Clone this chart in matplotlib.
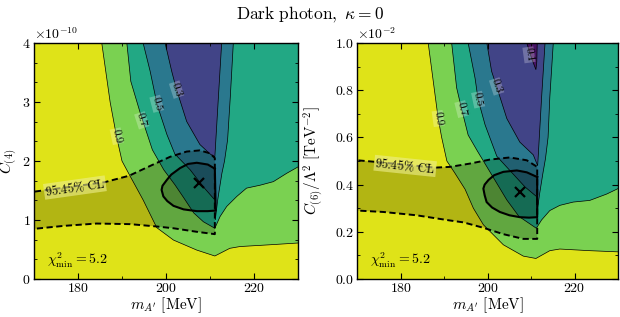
import matplotlib
matplotlib.use('Agg')

import matplotlib.pyplot as plt
import numpy as np
from matplotlib.ticker import MultipleLocator, AutoMinorLocator, ScalarFormatter

plt.rcParams['font.family'] = 'serif'
plt.rcParams['font.serif'] = ['cmr10']
plt.rcParams['mathtext.fontset'] = 'cm'
plt.rcParams['axes.formatter.use_mathtext'] = True

# contour levels of the p-value map
levels = [0.1, 0.3, 0.5, 0.7, 0.9]

# ---- left panel: C_(4) in units of 1e-10, boundaries of the region p < level
left_p09 = [(185.0, 4.2), (185.4, 4.0), (187.3, 3.0), (188.8, 2.4), (190.0, 2.0), (191.8, 1.75),
            (194.8, 1.34), (197.9, 0.87), (201.7, 0.66), (207.0, 0.49), (211.1, 0.39), (214.5, 0.52),
            (216.8, 0.55), (223.6, 0.58), (230.0, 0.61), (232.0, 0.62), (232.0, 4.2)]
left_p07 = [(190.9, 4.2), (191.1, 4.0), (192.0, 3.35), (194.2, 2.8), (196.9, 2.19), (199.5, 1.85),
            (202.0, 1.6), (204.0, 1.38), (206.3, 1.12), (208.5, 0.97), (211.1, 0.86), (212.3, 1.06),
            (213.8, 1.23), (216.1, 1.40), (218.3, 1.54), (221.4, 1.59), (224.4, 1.65), (227.4, 1.79),
            (230.0, 1.90), (232.0, 1.95), (232.0, 4.2)]
left_p05 = [(194.5, 4.2), (194.8, 4.0), (196.4, 3.52), (198.0, 2.95), (200.2, 2.45), (202.0, 2.12),
            (205.5, 1.85), (208.5, 1.56), (211.1, 1.34), (211.2, 1.0), (211.75, 1.34), (212.7, 1.79),
            (213.3, 2.0), (214.0, 2.36), (214.6, 3.07), (215.3, 4.0), (215.4, 4.2)]
left_p03 = [(199.7, 4.2), (199.8, 4.0), (201.3, 3.52), (202.4, 3.21), (204.7, 2.67), (207.7, 2.28),
            (210.0, 2.12), (211.1, 2.07), (211.9, 3.07), (212.65, 4.0), (212.7, 4.2)]
left_cl95 = [(168.0, 1.47), (170.0, 1.48), (178.0, 1.56), (186.0, 1.64), (191.6, 1.75), (196.5, 1.92),
             (200.9, 2.07), (204.7, 2.16), (207.7, 2.18), (210.0, 2.13), (211.1, 2.05), (211.1, 0.76),
             (207.0, 0.80), (201.7, 0.86), (197.9, 0.89), (191.8, 0.93), (184.2, 0.94), (176.7, 0.90),
             (170.0, 0.85), (168.0, 0.84)]
left_cl68 = [(211.1, 1.87), (209.5, 1.94), (207.0, 1.97), (205.0, 1.95), (203.2, 1.88), (201.2, 1.77),
             (200.2, 1.68), (199.2, 1.58), (199.0, 1.51), (199.4, 1.40), (200.3, 1.32), (201.7, 1.24),
             (204.0, 1.18), (207.0, 1.15), (209.5, 1.15), (211.3, 1.16), (211.1, 1.87)]
left_best = (207.4, 1.62)
left_label_pos = [(188.8, 2.42), (194.5, 2.69), (197.9, 2.97), (202.4, 3.21)]
left_label_txt = ['0.9', '0.7', '0.5', '0.3']
left_cl_label_pos = (179.3, 1.55)

# ---- right panel: C_(6)/Lambda^2 in units of 1e-2 TeV^-2
right_p09 = [(186.0, 1.05), (186.3, 1.0), (188.6, 0.68), (189.4, 0.60), (190.6, 0.50), (192.4, 0.45),
             (194.8, 0.38), (196.7, 0.30), (199.0, 0.23), (203.6, 0.145), (208.2, 0.097), (211.1, 0.087),
             (214.3, 0.12), (216.6, 0.127), (223.5, 0.12), (230.0, 0.115), (232.0, 0.115), (232.0, 1.05)]
right_p07 = [(191.6, 1.05), (191.7, 1.0), (192.85, 0.81), (194.0, 0.72), (195.5, 0.61), (197.7, 0.54),
             (201.3, 0.43), (204.4, 0.335), (207.2, 0.265), (211.2, 0.215), (212.4, 0.25), (214.3, 0.29),
             (216.6, 0.312), (219.7, 0.326), (223.5, 0.333), (227.4, 0.36), (230.0, 0.383), (232.0, 0.39),
             (232.0, 1.05)]
right_p05 = [(195.4, 1.05), (195.5, 1.0), (197.1, 0.85), (197.8, 0.76), (199.4, 0.653), (202.1, 0.52),
             (205.1, 0.46), (208.6, 0.39), (211.2, 0.35), (211.5, 0.30), (211.96, 0.362), (212.7, 0.447),
             (213.3, 0.51), (213.9, 0.6), (214.3, 0.77), (215.1, 1.0), (215.2, 1.05)]
right_p03 = [(199.7, 1.05), (199.8, 1.0), (200.9, 0.88), (202.05, 0.816), (204.4, 0.68), (207.4, 0.58),
             (210.5, 0.526), (211.5, 0.48), (211.6, 0.51), (212.4, 0.766), (213.2, 1.0), (213.3, 1.05)]
right_p01 = [(208.9, 1.05), (209.0, 1.0), (210.2, 0.93), (211.1, 0.887), (211.3, 0.92), (211.4, 1.0),
             (211.4, 1.05)]
right_cl95 = [(168.0, 0.505), (170.0, 0.503), (174.4, 0.496), (181.0, 0.484), (187.9, 0.472),
              (191.3, 0.475), (195.9, 0.489), (200.5, 0.506), (205.1, 0.515), (209.0, 0.503),
              (211.4, 0.475), (211.4, 0.17), (208.2, 0.17), (203.6, 0.19), (199.0, 0.217), (194.4, 0.24),
              (191.3, 0.248), (183.6, 0.27), (176.0, 0.284), (170.0, 0.29), (168.0, 0.291)]
right_cl68 = [(211.4, 0.432), (209.0, 0.452), (206.7, 0.46), (203.6, 0.454), (201.5, 0.44), (200.2, 0.42),
              (199.3, 0.40), (199.0, 0.383), (199.3, 0.355), (199.75, 0.326), (201.0, 0.303),
              (202.8, 0.284), (205.0, 0.27), (207.4, 0.262), (209.5, 0.26), (211.4, 0.262), (211.4, 0.432)]
right_best = (207.4, 0.37)
right_label_pos = [(188.6, 0.68), (194.0, 0.72), (197.8, 0.76), (202.05, 0.816), (209.5, 0.95)]
right_label_txt = ['0.9', '0.7', '0.5', '0.3', '0.1']
right_cl_label_pos = (181.0, 0.479)

chi2_min = 5.2

# band colours: viridis at the middle of each level interval
band_edges = [0.0] + levels + [1.0]
band_mid = [(a + b) / 2 for a, b in zip(band_edges[:-1], band_edges[1:])]
band_colors = plt.cm.viridis(np.array(band_mid))


def draw_panel(ax, regions, cl95, cl68, best, lab_pos, lab_txt, lab_rot, cl_pos, cl_rot,
               scale, ylim, ymajor, yminor_div, ylabel, ylab_x):
    ax.set_facecolor(band_colors[-1])
    # regions ordered from p<0.9 inwards: p<0.9 gets the 0.7-0.9 colour, etc.
    for i, poly in enumerate(regions):
        xs, ys = np.array(poly).T
        ax.fill(xs, ys * scale, facecolor=band_colors[-2 - i], edgecolor='k', linewidth=0.5, zorder=1)

    xs, ys = np.array(cl95).T
    ax.fill(xs, ys * scale, color='k', alpha=0.2, linewidth=0, zorder=2)
    ax.plot(xs, ys * scale, color='k', linestyle=(0, (3.2, 1.8)), linewidth=1.4, zorder=3)
    xs, ys = np.array(cl68).T
    ax.fill(xs, ys * scale, color='k', alpha=0.2, linewidth=0, zorder=2)
    ax.plot(xs, ys * scale, color='k', linewidth=1.5, zorder=3)
    ax.plot(best[0], best[1] * scale, marker='x', color='k', markersize=7, mew=1.6, zorder=4)

    for (lx, ly), t, r in zip(lab_pos, lab_txt, lab_rot):
        ax.text(lx, ly * scale, t, rotation=r, fontsize=8, ha='center', va='center',
                rotation_mode='anchor', zorder=5,
                bbox=dict(facecolor='white', alpha=0.25, edgecolor='none', pad=0.6))
    ax.text(cl_pos[0], cl_pos[1] * scale, r'$95.45\%\ \mathrm{CL}$', rotation=cl_rot, fontsize=9,
            ha='center', va='center', rotation_mode='anchor', zorder=5,
            bbox=dict(facecolor='#eeee90', alpha=0.6, edgecolor='none', pad=0.5))
    ax.text(0.05, 0.04, r'$\chi^2_{\min} = %.1f$' % chi2_min, transform=ax.transAxes,
            fontsize=10, ha='left', va='bottom', zorder=5)

    ax.set_xlim(170, 230)
    ax.set_ylim(ylim[0] * scale, ylim[1] * scale)
    ax.xaxis.set_major_locator(MultipleLocator(20))
    ax.xaxis.set_minor_locator(AutoMinorLocator(2))
    ax.yaxis.set_major_locator(MultipleLocator(ymajor * scale))
    ax.yaxis.set_minor_locator(AutoMinorLocator(yminor_div))
    fmt = ScalarFormatter(useMathText=True)
    fmt.set_powerlimits((0, 0))
    ax.yaxis.set_major_formatter(fmt)
    ax.yaxis.get_offset_text().set_fontsize(10)
    ax.tick_params(which='both', direction='in', top=True, right=True, labelsize=10)
    ax.tick_params(which='major', length=4, width=0.8, pad=2.5)
    ax.tick_params(which='minor', length=2.2, width=0.6)
    for s in ax.spines.values():
        s.set_linewidth(1.0)
        s.set_zorder(6)
    ax.set_xlabel(r"$m_{A'}\ [\mathrm{MeV}]$", fontsize=11)
    ax.xaxis.set_label_coords(0.5, -0.068)
    ax.set_ylabel(ylabel, fontsize=11)
    ax.yaxis.set_label_coords(ylab_x, 0.5)


fig = plt.figure(figsize=(6.2, 3.17), dpi=100)
ax1 = fig.add_axes([34 / 620, 38 / 317, 264 / 620, 236 / 317])
ax2 = fig.add_axes([357.4 / 620, 38 / 317, 260.6 / 620, 236 / 317])

draw_panel(ax1, [left_p09, left_p07, left_p05, left_p03], left_cl95, left_cl68, left_best,
           left_label_pos, left_label_txt, [-78, -72, -75, -72], left_cl_label_pos, 8,
           1e-10, (0, 4), 1, 3, r'$C_{(4)}$', -0.052)
draw_panel(ax2, [right_p09, right_p07, right_p05, right_p03, right_p01], right_cl95, right_cl68,
           right_best, right_label_pos, right_label_txt, [-82, -76, -78, -72, -82],
           right_cl_label_pos, -6, 1e-2, (0, 1), 0.2, 2,
           r'$C_{(6)}/\Lambda^2\ [\mathrm{TeV}^{-2}]$', -0.12)

fig.suptitle(r'$\mathrm{Dark\ photon,}\ \kappa = 0$', fontsize=12.5, y=0.985)

fig.savefig('out.png', dpi=100)
